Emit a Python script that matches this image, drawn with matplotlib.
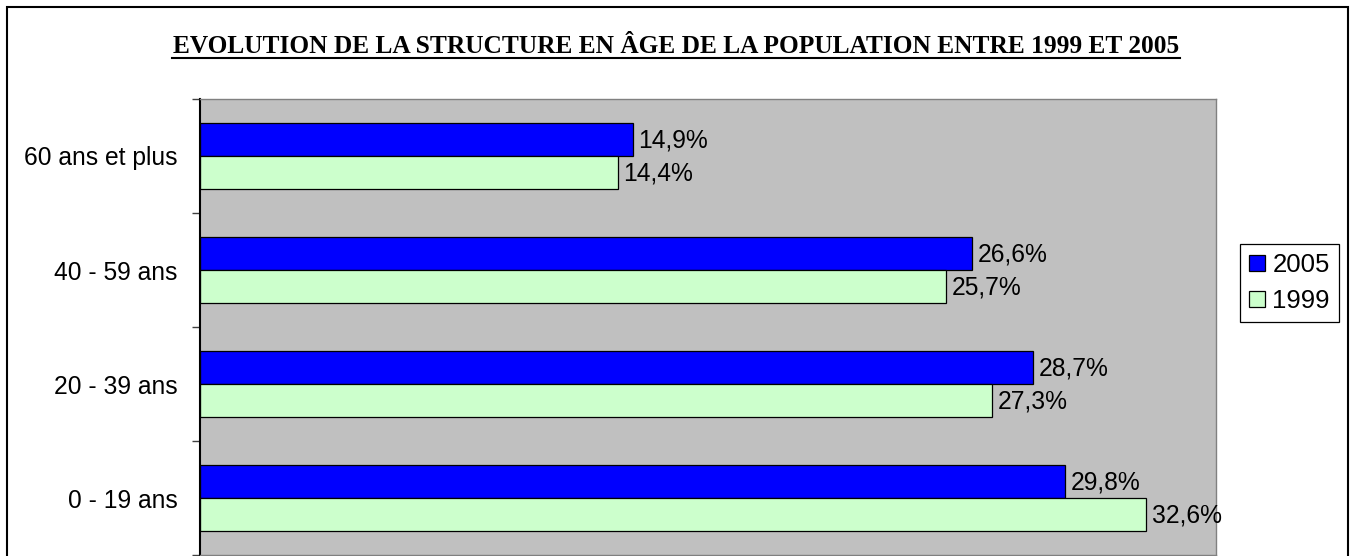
import numpy as np
import matplotlib.pyplot as plt
import matplotlib.patches as patches

# data
categories = ['0 - 19 ans', '20 - 39 ans', '40 - 59 ans', '60 ans et plus']
pct_2005 = [29.8, 28.7, 26.6, 14.9]
pct_1999 = [32.6, 27.3, 25.7, 14.4]
series_names = ['2005', '1999']

title = 'EVOLUTION DE LA STRUCTURE EN ÂGE DE LA POPULATION ENTRE 1999 ET 2005'

plt.rcParams['font.family'] = ['Liberation Sans', 'DejaVu Sans']

fig = plt.figure(figsize=(13.53, 5.56), dpi=100)
ax = fig.add_axes([200/1353, 1/556, 1016/1353, 456/556])

y = np.arange(len(categories))
h = 0.29
b05 = ax.barh(y + h/2, pct_2005, height=h, color='#0000FF', edgecolor='black', linewidth=0.9, label=series_names[0])
b99 = ax.barh(y - h/2, pct_1999, height=h, color='#CCFFCC', edgecolor='black', linewidth=0.9, label=series_names[1])

# value labels, baseline placed so the digits sit centred on the bar
for bars, vals in [(b05, pct_2005), (b99, pct_1999)]:
    for bar, v in zip(bars, vals):
        ax.annotate(f'{v:.1f}%'.replace('.', ','), (v, bar.get_y() + bar.get_height()/2),
                    xytext=(4, -6), textcoords='offset points', va='baseline', ha='left', fontsize=17.7)

ax.set_xlim(0, 35)
ax.set_ylim(-0.5, 3.5)
ax.set_facecolor('#C0C0C0')
ax.set_xticks([])
ax.set_yticks(y)
ax.set_yticklabels(categories, fontsize=17.7)
ax.tick_params(axis='y', which='major', length=0, pad=16)
ax.set_yticks(np.arange(-0.5, 4, 1), minor=True)
ax.tick_params(axis='y', which='minor', length=6, width=1, color='#404040')
for s in ['top', 'right', 'bottom']:
    ax.spines[s].set_color('#808080')
    ax.spines[s].set_linewidth(1)
ax.spines['left'].set_color('black')
ax.spines['left'].set_linewidth(1.5)

leg = fig.legend(handles=[b05, b99], loc='center', bbox_to_anchor=(1289.5/1353, 1 - 283/556),
                 fontsize=18.5, handlelength=0.6, handleheight=0.6, handletextpad=0.3,
                 fancybox=False, framealpha=1, edgecolor='black', borderpad=0.35, labelspacing=0.45)
leg.get_frame().set_linewidth(0.9)

fig.text(0.5, 1 - 53/556, title, ha='center', va='baseline', fontsize=18.3,
         fontweight='bold', family='Liberation Serif')
# underline under title
fig.add_artist(plt.Line2D([172/1353, 1180/1353], [1 - 57.5/556, 1 - 57.5/556], color='black', linewidth=1.5))

# outer chart frame
fig.add_artist(patches.Rectangle((7/1353, -0.05), 1341/1353, 1.05 - 7/556, transform=fig.transFigure,
                                 fill=False, edgecolor='black', linewidth=1.5))

fig.savefig('out.png', dpi=100)
